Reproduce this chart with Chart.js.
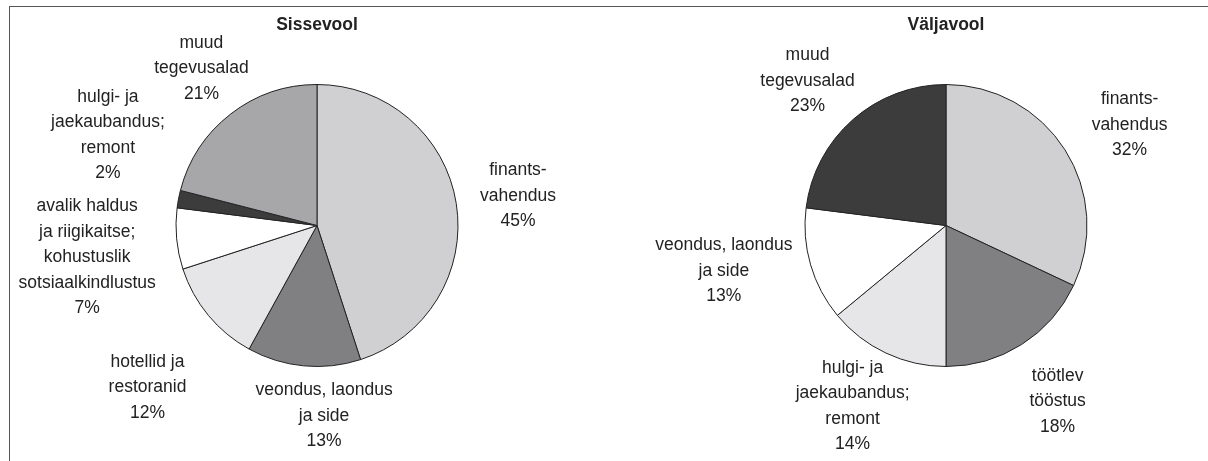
<!DOCTYPE html>
<html><head><meta charset="utf-8">
<script src="https://cdn.jsdelivr.net/npm/chart.js@4.4.0/dist/chart.umd.min.js"></script>
<style>
html,body{margin:0;padding:0;background:#fff;}
#wrap{position:relative;width:1208px;height:461px;overflow:hidden;background:#fff;}
#frame{position:absolute;left:9px;top:6px;width:1300px;height:600px;border-top:1px solid #555;border-left:1px solid #555;}
.c{position:absolute;top:0;width:604px;height:461px;}
</style></head><body>
<div id="wrap"><div id="frame"></div>
<div class="c" style="left:0"><canvas id="c1"></canvas></div>
<div class="c" style="left:604px"><canvas id="c2"></canvas></div>
</div>
<script>
// ---- data ----
const inflowTitle = 'Sissevool';
const inflowCategories = [['finants-','vahendus'],['veondus, laondus','ja side'],['hotellid ja','restoranid'],['avalik haldus','ja riigikaitse;','kohustuslik','sotsiaalkindlustus'],['hulgi- ja','jaekaubandus;','remont'],['muud','tegevusalad']];
const inflowValues = [45,13,12,7,2,21];
const inflowColors = ['#d0d0d2','#808083','#e6e6e8','#ffffff','#3c3c3c','#a7a7aa'];

const outflowTitle = 'Väljavool';
const outflowCategories = [['finants-','vahendus'],['töötlev','tööstus'],['hulgi- ja','jaekaubandus;','remont'],['veondus, laondus','ja side'],['muud','tegevusalad']];
const outflowValues = [32,18,14,13,23];
const outflowColors = ['#d0d0d2','#808083','#e6e6e8','#ffffff','#3c3c3c'];

const FONT = '"Liberation Sans", Arial, sans-serif';
const FS = 17.5, LH = 25.5, TXT = '#222';

const labelPlugin = {
  id: 'outLabels',
  afterDatasetsDraw(chart, args, opts) {
    const ctx = chart.ctx;
    const meta = chart.getDatasetMeta(0);
    const cats = chart.data.labels;
    const vals = chart.data.datasets[0].data;
    ctx.save();
    ctx.fillStyle = TXT;
    ctx.textAlign = 'center';
    ctx.textBaseline = 'middle';
    let cx0 = 0;
    meta.data.forEach((arc, i) => {
      const p = arc.getProps(['x','y','startAngle','endAngle','outerRadius'], true);
      cx0 = p.x;
      const lines = cats[i].concat([vals[i] + '%']);
      ctx.font = FS + 'px ' + FONT;
      const w = Math.max(...lines.map(l => ctx.measureText(l).width));
      const h = lines.length * LH;
      const mid = (p.startAngle + p.endAngle) / 2;
      const dx = Math.cos(mid), dy = Math.sin(mid);
      const t = Math.min(Math.abs(dx) > 1e-6 ? (w/2)/Math.abs(dx) : 1e9, Math.abs(dy) > 1e-6 ? (h/2)/Math.abs(dy) : 1e9);
      const d = p.outerRadius + opts.gap + t;
      const n = (opts.nudge && opts.nudge[i]) || [0,0];
      const lx = p.x + dx*d + n[0];
      const ly = p.y + dy*d + n[1];
      lines.forEach((l, k) => {
        ctx.fillText(l, lx, ly - h/2 + LH*(k+0.5));
      });
    });
    ctx.font = 'bold ' + FS + 'px ' + FONT;
    ctx.fillText(opts.title, cx0, opts.titleY);
    ctx.restore();
  }
};

function makePie(id, title, cats, vals, colors, padding, nudge) {
  return new Chart(document.getElementById(id), {
    type: 'pie',
    data: {
      labels: cats,
      datasets: [{ data: vals, backgroundColor: colors, borderColor: '#222', borderWidth: 1 }]
    },
    options: {
      responsive: true,
      maintainAspectRatio: false,
      devicePixelRatio: 1,
      animation: false,
      layout: { padding: padding },
      plugins: {
        legend: { display: false },
        tooltip: { enabled: false },
        title: { display: false },
        outLabels: { gap: 22, title: title, titleY: 25, nudge: nudge }
      }
    },
    plugins: [labelPlugin]
  });
}

makePie('c1', inflowTitle, inflowCategories, inflowValues, inflowColors,
  { left: 175.5, right: 145.5, top: 84, bottom: 94 },
  [[2,2],[26,-10],[-5,26],[1,10],[8,-49],[14,10]]);
makePie('c2', outflowTitle, outflowCategories, outflowValues, outflowColors,
  { left: 200.5, right: 120.5, top: 84, bottom: 94 },
  [[8,11],[0,0],[0,-18],[3,-20],[3,16]]);
</script>
</body></html>
